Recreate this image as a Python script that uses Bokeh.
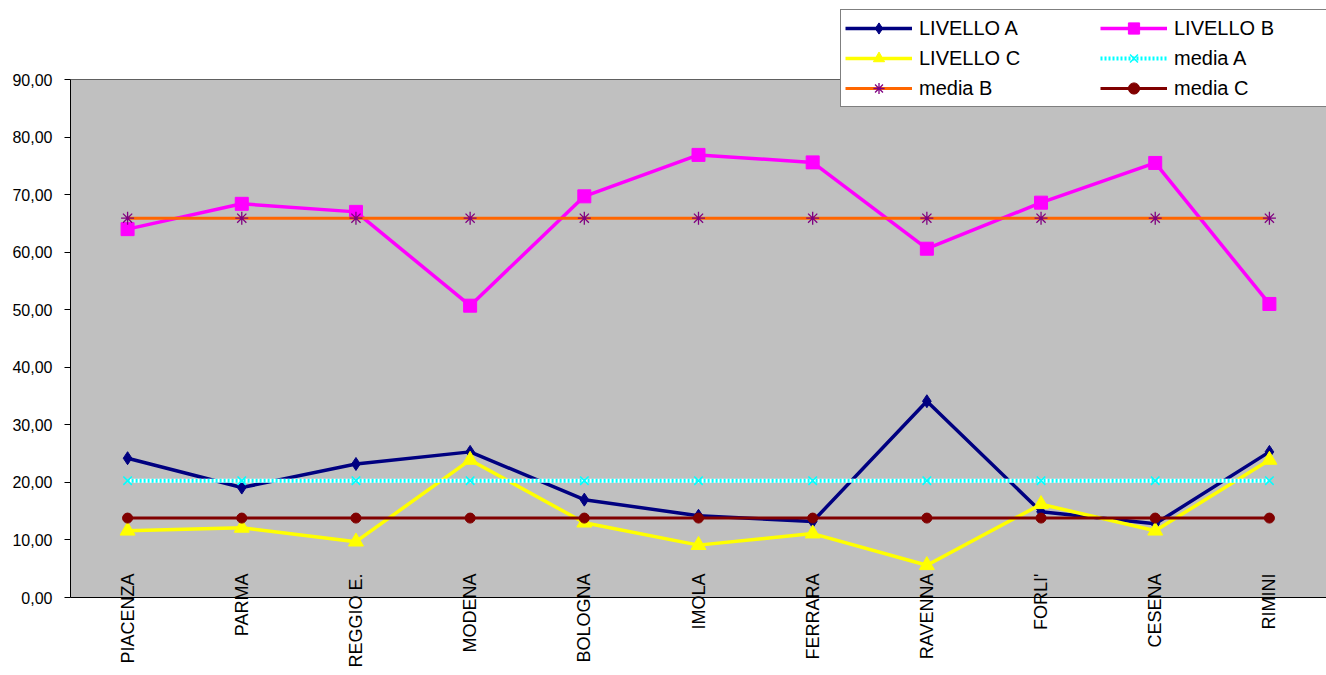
from bokeh.plotting import figure
from bokeh.models import (FactorRange, FixedTicker, CustomJSTickFormatter, Legend, LegendItem,
                          ColumnDataSource, BoxAnnotation, Range1d)
from bokeh.embed import file_html
from bokeh.resources import INLINE
import math

categories = ["PIACENZA", "PARMA", "REGGIO E.", "MODENA", "BOLOGNA", "IMOLA",
              "FERRARA", "RAVENNA", "FORLI'", "CESENA", "RIMINI"]
livello_a = [24.2, 19.1, 23.2, 25.3, 17.0, 14.2, 13.2, 34.1, 14.9, 12.8, 25.3]
livello_b = [64.0, 68.4, 67.0, 50.7, 69.7, 76.9, 75.6, 60.6, 68.6, 75.5, 51.0]
livello_c = [11.6, 12.1, 9.7, 23.9, 13.0, 9.1, 11.1, 5.6, 16.2, 11.6, 23.9]
media_a = [20.3, 20.3, 20.3, 20.3, 20.3, 20.3, 20.3, 20.3, 20.3, 20.3, 20.3]
media_b = [65.9, 65.9, 65.9, 65.9, 65.9, 65.9, 65.9, 65.9, 65.9, 65.9, 65.9]
media_c = [13.8, 13.8, 13.8, 13.8, 13.8, 13.8, 13.8, 13.8, 13.8, 13.8, 13.8]
y_ticks = [0, 10, 20, 30, 40, 50, 60, 70, 80, 90]

FONT = "Liberation Sans"
Y_MIN, Y_MAX = 0, 90
TOP_BORDER = 5
FRAME_BOTTOM = 597
PLOT_TOP = 79
# extend the numeric range above 90 so the legend can sit over the plot area top
y_end = Y_MAX * (FRAME_BOTTOM - TOP_BORDER) / (FRAME_BOTTOM - PLOT_TOP)

src = ColumnDataSource(dict(cat=categories, a=livello_a, b=livello_b, c=livello_c,
                            ma=media_a, mb=media_b, mc=media_c))

p = figure(x_range=FactorRange(*categories, range_padding=0), y_range=Range1d(Y_MIN, y_end),
           width=1326, height=675, output_backend="svg", toolbar_location=None,
           min_border_left=70, min_border_right=0, min_border_top=TOP_BORDER,
           min_border_bottom=675 - FRAME_BOTTOM)
p.background_fill_color = "white"
p.border_fill_color = "white"
p.outline_line_color = None

p.add_layout(BoxAnnotation(bottom=Y_MIN, top=Y_MAX, fill_color="#C0C0C0", fill_alpha=1.0,
                           line_color=None, level="underlay"))

# Series
la_line = p.line("cat", "a", source=src, line_color="#000080", line_width=3.5)
la_mk = p.scatter("cat", "a", source=src, marker="diamond", size=13, fill_color="#000080", line_color="#000080")
lb_line = p.line("cat", "b", source=src, line_color="#FF00FF", line_width=3.5)
lb_mk = p.scatter("cat", "b", source=src, marker="square", size=13, fill_color="#FF00FF", line_color="#FF00FF")
lc_line = p.line("cat", "c", source=src, line_color="#FFFF00", line_width=3.5)
lc_mk = p.scatter("cat", "c", source=src, marker="triangle", size=15, fill_color="#FFFF00", line_color="#FFFF00")
ma_bg = p.line("cat", "ma", source=src, line_color="white", line_width=4)
ma_line = p.line("cat", "ma", source=src, line_color="#00FFFF", line_width=4, line_dash="2 2")
ma_mk = p.scatter("cat", "ma", source=src, marker="x", size=12, line_color="#00FFFF", line_width=1.5)
mb_line = p.line("cat", "mb", source=src, line_color="#FF6600", line_width=3)
mb_mk = p.scatter("cat", "mb", source=src, marker="asterisk", size=13, line_color="#800080", line_width=1.3)
mc_line = p.line("cat", "mc", source=src, line_color="#800000", line_width=3)
mc_mk = p.scatter("cat", "mc", source=src, marker="circle", size=10, fill_color="#800000", line_color="#800000")

# Axes
p.yaxis.ticker = FixedTicker(ticks=y_ticks)
p.yaxis.bounds = (Y_MIN, Y_MAX)
p.yaxis.formatter = CustomJSTickFormatter(code="return tick.toFixed(2).replace('.', ',');")
p.yaxis.major_label_text_font = FONT
p.yaxis.major_label_text_font_size = "16px"
p.yaxis.major_label_text_color = "black"
p.yaxis.axis_line_color = "black"
p.yaxis.major_tick_line_color = "black"
p.yaxis.major_tick_out = 6
p.yaxis.major_tick_in = 0
p.yaxis.minor_tick_line_color = None
p.yaxis.major_label_standoff = 12

p.xaxis.major_label_orientation = math.pi / 2
p.xaxis.major_label_text_font = FONT
p.xaxis.major_label_text_font_size = "18px"
p.xaxis.major_label_text_color = "black"
p.xaxis.axis_line_color = "black"
p.xaxis.major_tick_line_color = None
p.xaxis.major_label_standoff = -30

p.xgrid.grid_line_color = None
p.ygrid.grid_line_color = "black"
p.ygrid.grid_line_width = 1

legend = Legend(items=[
    LegendItem(label="LIVELLO A", renderers=[la_line, la_mk]),
    LegendItem(label="LIVELLO C", renderers=[lc_line, lc_mk]),
    LegendItem(label="media B", renderers=[mb_line, mb_mk]),
    LegendItem(label="LIVELLO B", renderers=[lb_line, lb_mk]),
    LegendItem(label="media A", renderers=[ma_bg, ma_line, ma_mk]),
    LegendItem(label="media C", renderers=[mc_line, mc_mk]),
], ncols=2, location=(770, 490), glyph_width=67, glyph_height=28, label_height=28,
   label_width=179, spacing=2, padding=4, margin=0, label_standoff=7,
   label_text_font=FONT, label_text_font_size="20px", label_text_color="black",
   border_line_color="black", border_line_width=1, background_fill_color="white",
   background_fill_alpha=1.0)
p.add_layout(legend, "center")

open("out.html", "w").write(file_html(p, INLINE))
